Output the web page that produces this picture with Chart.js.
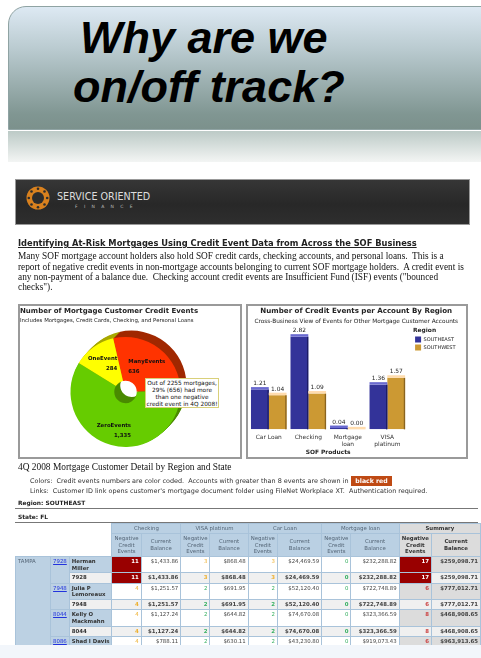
<!DOCTYPE html>
<html><head><meta charset="utf-8">
<script src="https://cdn.jsdelivr.net/npm/chart.js@4"></script>
<style>
html,body{margin:0;padding:0;background:#fff;width:481px;height:658px;overflow:hidden}
body{position:relative;font-family:"DejaVu Sans",sans-serif}
.abs{position:absolute;white-space:nowrap}
#head{left:8px;top:6px;width:490px;height:124px;border:1px solid #8fa3a3;border-radius:18px 0 12px 0;background:linear-gradient(#dde9f3 0%,#b9cacf 35%,#809692 88%,#7c918c 100%);box-sizing:border-box}
#reflect{left:8px;top:131px;width:473px;height:31px;background:linear-gradient(#bccac6,#f3f5f4)}
.big{font:italic bold 45px "Liberation Sans",Arial,sans-serif;color:#000}
#report{position:absolute;left:0;top:0;width:481px;height:658px;filter:blur(.55px)}
#banner{left:15px;top:179px;width:455px;height:46px;background:linear-gradient(#363636,#282828 55%,#2e2e2e);border:1px solid #999;box-sizing:border-box}
.serif{font-family:"Liberation Serif",serif;font-size:9.3px;color:#111}
.box{border:2px solid #9a9a9a;box-sizing:border-box;background:#fff}
canvas{position:absolute}
#callout{left:145px;top:378px;width:74px;height:30px;box-sizing:border-box;border:1.5px solid #d9d07a;background:#fff;font-size:5.8px;line-height:7px;text-align:center;color:#111;padding-top:.5px}
table{position:absolute;left:15px;top:523px;border-collapse:collapse;table-layout:fixed;font-size:5.4px;color:#444}
td{padding:1px 2px;border:1px solid #a9c3da;overflow:hidden;vertical-align:top;text-align:right;box-sizing:border-box;line-height:6.6px}
td.hd{background:#bad0e3;color:#567;text-align:center;vertical-align:middle}
td.sh{background:#dcdcdc;color:#333;text-align:center;vertical-align:middle}
td.none{border:none;background:#fff}
td.side{background:#bcd1e3;text-align:left;color:#567}
td.nm{background:#bcd1e3;text-align:left;font-weight:bold;color:#333;white-space:nowrap}
td.alt{background:#f0f0f0;font-weight:bold}
td.sum{background:#dcdcdc;font-weight:bold}
td.hot{background:#990000;color:#fff;font-weight:bold}
a{color:#2233dd;text-decoration:underline}
#strip{left:0;top:645px;width:481px;height:13px;background:#f2f6fb}
</style></head><body>
<div class="abs" id="head"></div>
<div class="abs" id="reflect"></div>
<div class="abs big" id="t1" style="left:80px;top:12px">Why are we</div>
<div class="abs big" id="t2" style="left:73px;top:61px">on/off track?</div>
<div id="report">
<div class="abs" id="banner"></div>
<svg class="abs" style="left:26px;top:186px" width="24" height="24" viewBox="0 0 24 24"><circle cx="12" cy="12" r="11.5" fill="#d9811e"/><circle cx="12" cy="12" r="6" fill="#2d2d2d"/><g fill="#2d2d2d"><circle cx="12" cy="2.8" r="1.3"/><circle cx="12" cy="21.2" r="1.3"/><circle cx="2.8" cy="12" r="1.3"/><circle cx="21.2" cy="12" r="1.3"/><circle cx="5.5" cy="5.5" r="1.3"/><circle cx="18.5" cy="5.5" r="1.3"/><circle cx="5.5" cy="18.5" r="1.3"/><circle cx="18.5" cy="18.5" r="1.3"/></g></svg>
<div class="abs" style="left:57px;top:191px;font-size:9.6px;color:#ddd">SERVICE ORIENTED</div>
<div class="abs" style="left:75px;top:204px;font-size:4.5px;letter-spacing:6.3px;color:#bbb">FINANCE</div>
<div class="abs" style="left:18px;top:238px;font-size:8.3px;font-weight:bold;text-decoration:underline;color:#222">Identifying At-Risk Mortgages Using Credit Event Data from Across the SOF Business</div>
<div class="abs serif" style="left:18px;top:251px">Many SOF mortgage account holders also hold SOF credit cards, checking accounts, and personal loans.&nbsp; This is a</div>
<div class="abs serif" style="left:18px;top:261.5px">report of negative credit events in non-mortgage accounts belonging to current SOF mortgage holders.&nbsp; A credit event is</div>
<div class="abs serif" style="left:18px;top:272px">any non-payment of a balance due.&nbsp; Checking account credit events are Insufficient Fund (ISF) events ("bounced</div>
<div class="abs serif" style="left:18px;top:282px">checks").</div>

<div class="abs box" style="left:18px;top:304px;width:224px;height:155px"></div>
<div class="abs box" style="left:246px;top:304px;width:222px;height:155px"></div>
<canvas id="pie" style="left:20px;top:306px;width:211px;height:152px" width="211" height="152"></canvas>
<canvas id="bars" style="left:248px;top:306px;width:218px;height:151px" width="218" height="151"></canvas>
<div class="abs" id="callout">Out of 2255 mortgages,<br>29% (656) had more<br>than one negative<br>credit event in 4Q 2008!</div>

<div class="abs serif" style="left:18px;top:462px;font-size:9.4px">4Q 2008 Mortgage Customer Detail by Region and State</div>
<div class="abs" style="left:30px;top:477px;font-size:6.45px;color:#333">Colors:&nbsp; Credit events numbers are color coded.&nbsp; Accounts with greater than 8 events are shown in</div>
<div class="abs" style="left:351px;top:476px;width:41px;height:10px;background:#bf4a14;color:#fff;font-size:6.2px;font-weight:bold;line-height:10px;text-align:center">black red</div>
<div class="abs" style="left:30px;top:487px;font-size:6.45px;color:#333">Links:&nbsp; Customer ID link opens customer's mortgage document folder using FileNet Workplace XT.&nbsp; Authentication required.</div>
<div class="abs" style="left:18px;top:500px;font-size:5.9px;font-weight:bold;color:#222">Region: SOUTHEAST</div>
<div class="abs" style="left:15px;top:508px;width:463px;height:1px;background:#777"></div>
<div class="abs" style="left:18px;top:514px;font-size:5.9px;font-weight:bold;color:#222">State: FL</div>
<div class="abs" style="left:15px;top:522px;width:463px;height:1px;background:#777"></div>
<table id="tbl"></table>
</div>
<div class="abs" id="strip"></div>

<script>
// Chart 1: customer credit events
const eventCategories = ['ManyEvents','ZeroEvents','OneEvent'];
const eventCounts = [636,1335,284];
const eventCountLabels = ['636','1,335','284'];
const pieFront = ['#ff3300','#66cc00','#ffff00'];
const pieDepth = ['#a02800','#4a8a00','#a8a800'];
// Chart 2: credit events per account by region
const productLabels = [['Car Loan'],['Checking'],['Mortgage','loan'],['VISA','platinum']];
const southeastValues = [1.21,2.82,0.04,1.36];
const southwestValues = [1.04,1.09,0.00,1.57];
// Table
const tableProducts = ['Checking','VISA platinum','Car Loan','Mortgage loan'];
const customerIds = ['7928','7948','8044','8086'];
const customerNames = ['Herman<br>Miller','Julia P<br>Lemoreaux','Kelly O<br>Mackmahn','Shad I Davis'];
const checkingEvents = [11,4,4,4];
const checkingBalance = ['$1,433.86','$1,251.57','$1,127.24','$788.11'];
const visaEvents = [3,2,2,2];
const visaBalance = ['$868.48','$691.95','$644.82','$630.11'];
const carEvents = [3,2,2,2];
const carBalance = ['$24,469.59','$52,120.40','$74,670.08','$43,230.80'];
const mortEvents = [0,0,0,0];
const mortBalance = ['$232,288.82','$722,748.89','$323,366.59','$919,073.43'];
const sumEvents = [17,6,8,6];
const sumBalance = ['$259,098.71','$777,012.71','$468,908.65','$963,913.65'];

const SANS = '"DejaVu Sans",sans-serif';
const colW = [39,18,41,27,41,27,41,27,46,26,50,29,51];
const rowH = [16,10.5,15.5,10.5,16,10.5,11];

function evColor(v){return v>=8?'#fff':v>=3?'#eeb02e':'#35b060';}
function cell(v,alt){
  if(v>8) return `<td class="hot">${v}</td>`;
  return `<td class="${alt?'alt':''}" style="color:${evColor(v)}">${v}</td>`;
}
function buildTable(){
  let h='<colgroup>'+colW.map(w=>`<col style="width:${w}px">`).join('')+'</colgroup>';
  h+='<tr style="height:10px"><td class="none" colspan="3" rowspan="2"></td>';
  tableProducts.forEach(p=>h+=`<td class="hd" colspan="2">${p}</td>`);
  h+='<td class="sh" colspan="2" style="font-weight:bold">Summary</td></tr><tr style="height:23px">';
  for(let i=0;i<4;i++) h+='<td class="hd">Negative Credit Events</td><td class="hd">Current Balance</td>';
  h+='<td class="sh" style="font-weight:bold">Negative Credit Events</td><td class="sh" style="font-weight:bold">Current Balance</td></tr>';
  let r=0;
  customerIds.forEach((id,i)=>{
    const two=i<3;
    for(let k=0;k<(two?2:1);k++){
      const alt=k===1;
      h+=`<tr style="height:${rowH[r++]}px">`;
      if(i===0&&k===0) h+=`<td class="side" rowspan="7">TAMPA</td>`;
      if(k===0) h+=`<td class="side" ${two?'rowspan="2"':''}><a href="#">${id}</a></td>`;
      h+=alt?`<td class="nm alt" style="background:#f0f0f0">${id}</td>`:`<td class="nm">${customerNames[i]}</td>`;
      h+=cell(checkingEvents[i],alt)+`<td class="${alt?'alt':''}">${checkingBalance[i]}</td>`;
      h+=cell(visaEvents[i],alt)+`<td class="${alt?'alt':''}">${visaBalance[i]}</td>`;
      h+=cell(carEvents[i],alt)+`<td class="${alt?'alt':''}">${carBalance[i]}</td>`;
      h+=cell(mortEvents[i],alt)+`<td class="${alt?'alt':''}">${mortBalance[i]}</td>`;
      h+=sumEvents[i]>8?`<td class="hot">${sumEvents[i]}</td>`:`<td class="${alt?'alt':'sum'}" style="color:#c44">${sumEvents[i]}</td>`;
      h+=`<td class="${alt?'alt':'sum'}">${sumBalance[i]}</td></tr>`;
    }
  });
  document.getElementById('tbl').innerHTML=h;
}
buildTable();

const PIE_DEPTH_STEPS = 6;
const pieDepthPlugin = {
  id:'pieDepth',
  beforeDatasetsDraw(chart){
    const ctx=chart.ctx, arcs=chart.getDatasetMeta(0).data;
    for(let k=PIE_DEPTH_STEPS;k>=1;k--){
      arcs.forEach((a,i)=>{
        const o=a.options;
        a.options=Object.assign({},o,{backgroundColor:pieDepth[i]});
        ctx.save();ctx.translate(k,-k*1.05);a.draw(ctx);ctx.restore();
        a.options=o;
      });
    }
  }
};
const labelNudgeX=[1,-3,-3.5], labelNudgeY=[1,6.5,-1];
const pieLabelPlugin = {
  id:'pieLabels',
  afterDatasetsDraw(chart){
    const ctx=chart.ctx, arcs=chart.getDatasetMeta(0).data;
    ctx.save();
    ctx.font='bold 5.4px '+SANS;ctx.fillStyle='#111';ctx.textBaseline='middle';
    const aligns=['left','right','right'];
    arcs.forEach((a,i)=>{
      const c=a.getCenterPoint();
      const w=ctx.measureText(eventCategories[i]).width;
      const x=(aligns[i]==='left'?c.x-w/2:c.x+w/2)+labelNudgeX[i];
      const y=c.y+labelNudgeY[i];
      ctx.textAlign=aligns[i];
      ctx.fillText(eventCategories[i],x,y-5);
      ctx.fillText(eventCountLabels[i],x,y+5);
    });
    ctx.restore();
  }
};
new Chart(document.getElementById('pie'),{
  type:'doughnut',
  data:{labels:eventCategories,datasets:[{data:eventCounts,backgroundColor:pieFront,borderWidth:0,hoverOffset:0}]},
  plugins:[pieDepthPlugin,pieLabelPlugin],
  options:{
    responsive:false,animation:false,
    rotation:-13,radius:55,cutout:13.5,
    layout:{padding:0},
    plugins:{
      legend:{display:false},tooltip:{enabled:false},
      title:{display:true,text:'Number of Mortgage Customer Credit Events',align:'start',color:'#222',font:{family:SANS,size:7,weight:'bold'},padding:{top:1,bottom:2}},
      subtitle:{display:true,text:'Includes Mortgages, Credit Cards, Checking, and Personal Loans',align:'start',color:'#222',font:{family:SANS,size:5.4},padding:{top:0,bottom:2}}
    }
  }
});

const BAR_D=2.5;
const shade={0:{top:'#6a6ad0',side:'#1c1c66'},1:{top:'#ffdcae',side:'#8a6420'}};
const barDepthPlugin={
  id:'barDepth',
  afterLayout(chart){
    chart.boxes.forEach(b=>{
      if(b.position==='right' && b.legendItems){b.left+=6;b.right+=6;}
      if(b.position==='top'){b.left+=2;b.right+=2;}
    });
  },
  afterDatasetsDraw(chart){
    const ctx=chart.ctx;
    ctx.save();
    chart.data.datasets.forEach((ds,di)=>{
      chart.getDatasetMeta(di).data.forEach((b,i)=>{
        const l=b.x-b.width/2,r=b.x+b.width/2,t=b.y,bt=b.base;
        ctx.fillStyle=shade[di].side;
        ctx.fillRect(r-1.3,t,1.3,bt-t);
        ctx.fillStyle=shade[di].top;
        ctx.fillRect(l,t-BAR_D,r-l,BAR_D);
        ctx.fillStyle='#222';ctx.font='5.9px '+SANS;ctx.textAlign='center';ctx.textBaseline='bottom';
        ctx.fillText(ds.data[i].toFixed(2),b.x,t-BAR_D-.5);
      });
    });
    ctx.restore();
  }
};
new Chart(document.getElementById('bars'),{
  type:'bar',
  data:{labels:productLabels,datasets:[
    {label:'SOUTHEAST',data:southeastValues,backgroundColor:'#333399'},
    {label:'SOUTHWEST',data:southwestValues,backgroundColor:'#cc9933'}
  ]},
  plugins:[barDepthPlugin],
  options:{
    responsive:false,animation:false,
    layout:{padding:{left:1,right:6.5,top:0,bottom:0}},
    datasets:{bar:{barPercentage:1,categoryPercentage:.9,borderWidth:0}},
    scales:{
      x:{grid:{display:false,drawTicks:false},border:{display:false},ticks:{color:'#333',maxRotation:0,padding:5,font:{family:SANS,size:5.9,lineHeight:1.15},autoSkip:false},
         title:{display:true,text:'SOF Products',color:'#222',font:{family:SANS,size:5.9,weight:'bold'},padding:{top:-4,bottom:1}}},
      y:{display:false,min:0,max:3.1}
    },
    plugins:{
      tooltip:{enabled:false},
      title:{display:true,text:'Number of Credit Events per Account By Region',color:'#222',font:{family:SANS,size:7.1,weight:'bold'},padding:{top:1,bottom:2}},
      subtitle:{display:true,text:'Cross-Business View of Events for Other Mortgage Customer Accounts',color:'#222',font:{family:SANS,size:5.8},padding:{top:0,bottom:3}},
      legend:{position:'right',align:'start',fullSize:false,
        title:{display:true,text:'Region',color:'#222',position:'start',font:{family:SANS,size:5.9,weight:'bold'},padding:0},
        labels:{boxWidth:6,boxHeight:6,padding:2,color:'#222',font:{family:SANS,size:5}}}
    }
  }
});
</script>
</body></html>
